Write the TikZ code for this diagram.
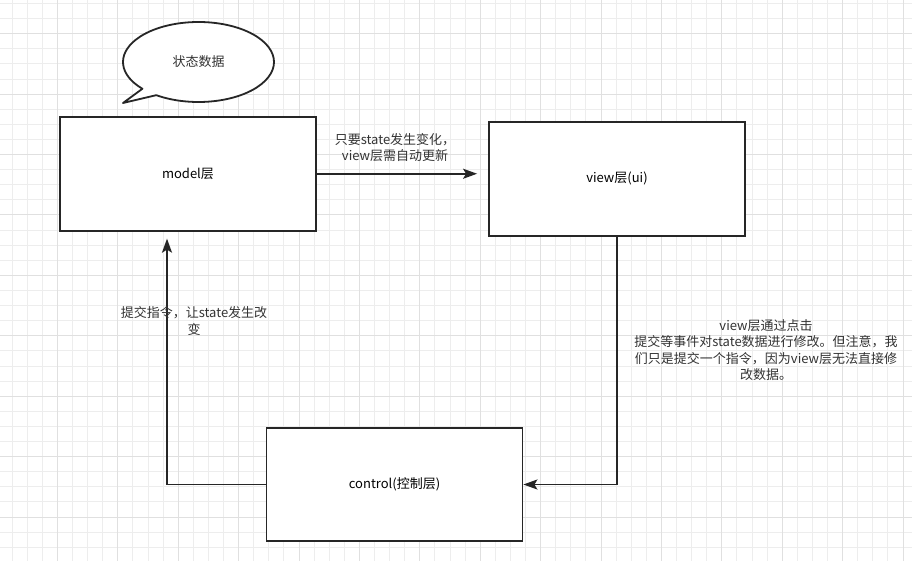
\documentclass[tikz,border=0pt]{standalone}
\usepackage{fontspec}
\setmainfont{Noto Sans CJK SC}
\usetikzlibrary{arrows.meta}

\begin{document}
\begin{tikzpicture}[
    x=1pt, y=1pt,
    >={Stealth[length=14pt,width=10pt,inset=3pt]},
    gridminor/.style={draw=black!7, line width=0.8pt},
    gridmajor/.style={draw=black!12, line width=0.8pt},
    layer/.style={
      draw=black!85,
      fill=white,
      line width=1.8pt,
      minimum width=256pt,
      minimum height=114pt,
      font=\fontsize{13}{16}\selectfont
    },
    note/.style={align=center, text=black!80, font=\fontsize{13}{16.3}\selectfont},
    flow/.style={->, draw=black!85, line width=1.8pt}
  ]
    \useasboundingbox (0,0) rectangle (912,-561);
    \fill[white] (0,0) rectangle (912,-561);

    % grid
    \foreach \i in {0,...,59} {
      \draw[gridminor] ({12+15.1*\i},0) -- ({12+15.1*\i},-561);
    }
    \foreach \j in {0,...,36} {
      \draw[gridminor] (0,{-3.5-15.1*\j}) -- (912,{-3.5-15.1*\j});
    }
    \foreach \i in {3,7,...,59} {
      \draw[gridmajor] ({12+15.1*\i},0) -- ({12+15.1*\i},-561);
    }
    \foreach \j in {2,6,...,34} {
      \draw[gridmajor] (0,{-3.5-15.1*\j}) -- (912,{-3.5-15.1*\j});
    }

    % speech bubble
    \draw[draw=black!85, fill=white, line width=1.8pt, line join=round]
      (198.5,-62) ++(236:75.5 and 40)
      arc[start angle=236, end angle=582, x radius=75.5, y radius=40]
      -- (123,-103) -- cycle;
    \node[note] (bubbletext) at (198.5,-62) {状态数据};

    \node[layer] (model) at (188,-173.75) {model层};
    \node[layer] (view) at (617,-178.75) {view层(ui)};
    \node[layer, minimum height=113pt] (control) at (394.5,-484.5) {control(控制层)};

    \draw[flow, shorten >=11pt] (model.east) -- (model.east -| view.west);
    \draw[flow] (view.south) |- (control.east);
    \draw[flow, shorten >=7pt] (control.west) -| ([xshift=-21pt]model.south);

    \node[note] (notechange) at (395,-147.5) {只要state发生变化，\\view层需自动更新};
    \node[note] (notesubmit) at (194,-321) {提交指令，让state发生改\\变};
    \node[note] (noteview) at (766,-350)
      {view层通过点击\\提交等事件对state数据进行修改。但注意，我\\们只是提交一个指令，因为view层无法直接修\\改数据。};
\end{tikzpicture}
\end{document}
